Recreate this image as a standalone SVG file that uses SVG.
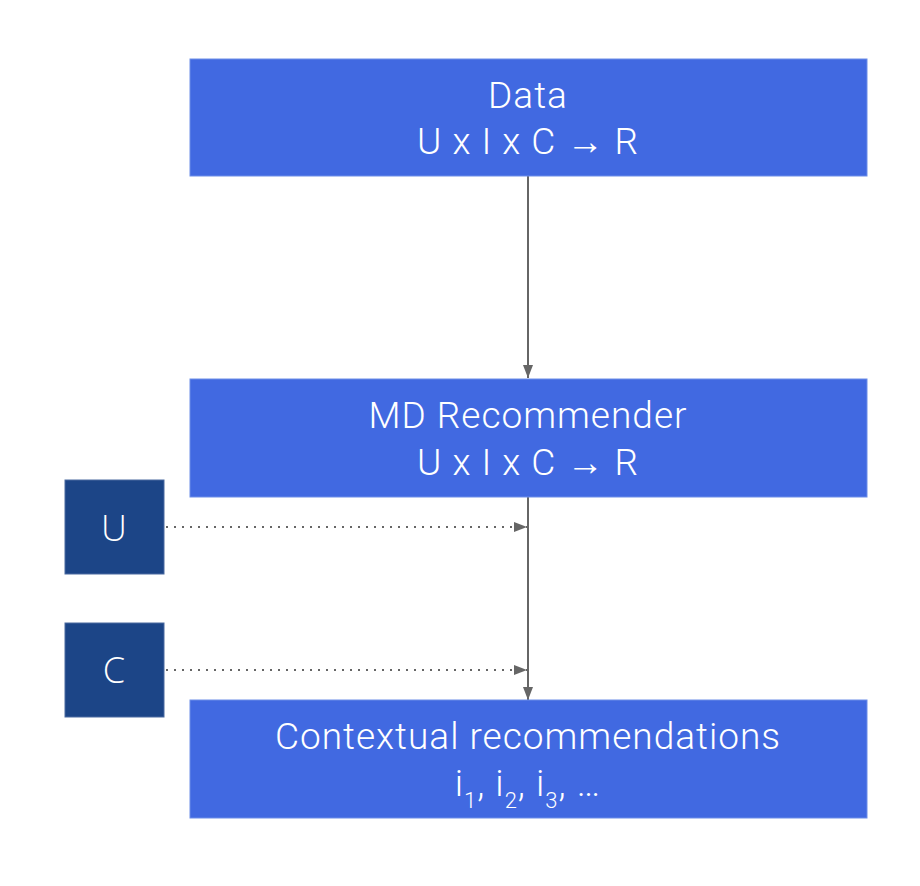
<svg xmlns="http://www.w3.org/2000/svg" width="920" height="886" viewBox="0 0 920 886">
<style>
.main{fill:#4169E1;stroke:#6d8ee8;stroke-width:1}
.side{fill:#1C4587;stroke:#4a6aa0;stroke-width:1}
.t{font-family:Roboto,"Liberation Sans",sans-serif;font-size:37px;font-weight:300;letter-spacing:1px;fill:#fff;text-anchor:middle}
.s{font-family:"Open Sans","Liberation Sans",sans-serif;font-size:36px;font-weight:300;fill:#fff;text-anchor:middle}
.ln{stroke:#666;stroke-width:2;fill:none}
.dot{stroke:#666;stroke-width:2;fill:none;stroke-dasharray:2 6}
</style>
<defs>
<marker id="ah" viewBox="0 0 13 10" refX="13" refY="5" markerWidth="6.5" markerHeight="5" orient="auto" markerUnits="strokeWidth">
<path d="M0,0 L13,5 L0,10 z" fill="#666"/>
</marker>
</defs>
<rect width="920" height="886" fill="#fff"/>
<g id="connectors">
<line class="ln" x1="528" y1="176" x2="528" y2="378" marker-end="url(#ah)"/>
<line class="ln" x1="528" y1="497" x2="528" y2="700" marker-end="url(#ah)"/>
<line class="dot" x1="166" y1="527" x2="527" y2="527" marker-end="url(#ah)"/>
<line class="dot" x1="166" y1="670" x2="527" y2="670" marker-end="url(#ah)"/>
</g>
<g id="data">
<rect class="main" x="190" y="59" width="677" height="117"/>
<text class="t" x="528" y="108">Data</text>
<text class="t" x="528" y="154">U x I x C → R</text>
</g>
<g id="md">
<rect class="main" x="190" y="379" width="677" height="118"/>
<text class="t" x="528" y="428">MD Recommender</text>
<text class="t" x="528" y="475">U x I x C → R</text>
</g>
<g id="ctx">
<rect class="main" x="190" y="700" width="677" height="118"/>
<text class="t" x="528" y="749">Contextual recommendations</text>
<text class="t" x="528" y="796">i<tspan font-size="22" dy="12">1</tspan><tspan dy="-12">, i</tspan><tspan font-size="22" dy="12">2</tspan><tspan dy="-12">, i</tspan><tspan font-size="22" dy="12">3</tspan><tspan dy="-12">, …</tspan></text>
</g>
<g id="u">
<rect class="side" x="65" y="480" width="99" height="94"/>
<text class="s" x="114" y="541">U</text>
</g>
<g id="c">
<rect class="side" x="65" y="623" width="99" height="94"/>
<text class="s" x="114" y="683">C</text>
</g>
</svg>
